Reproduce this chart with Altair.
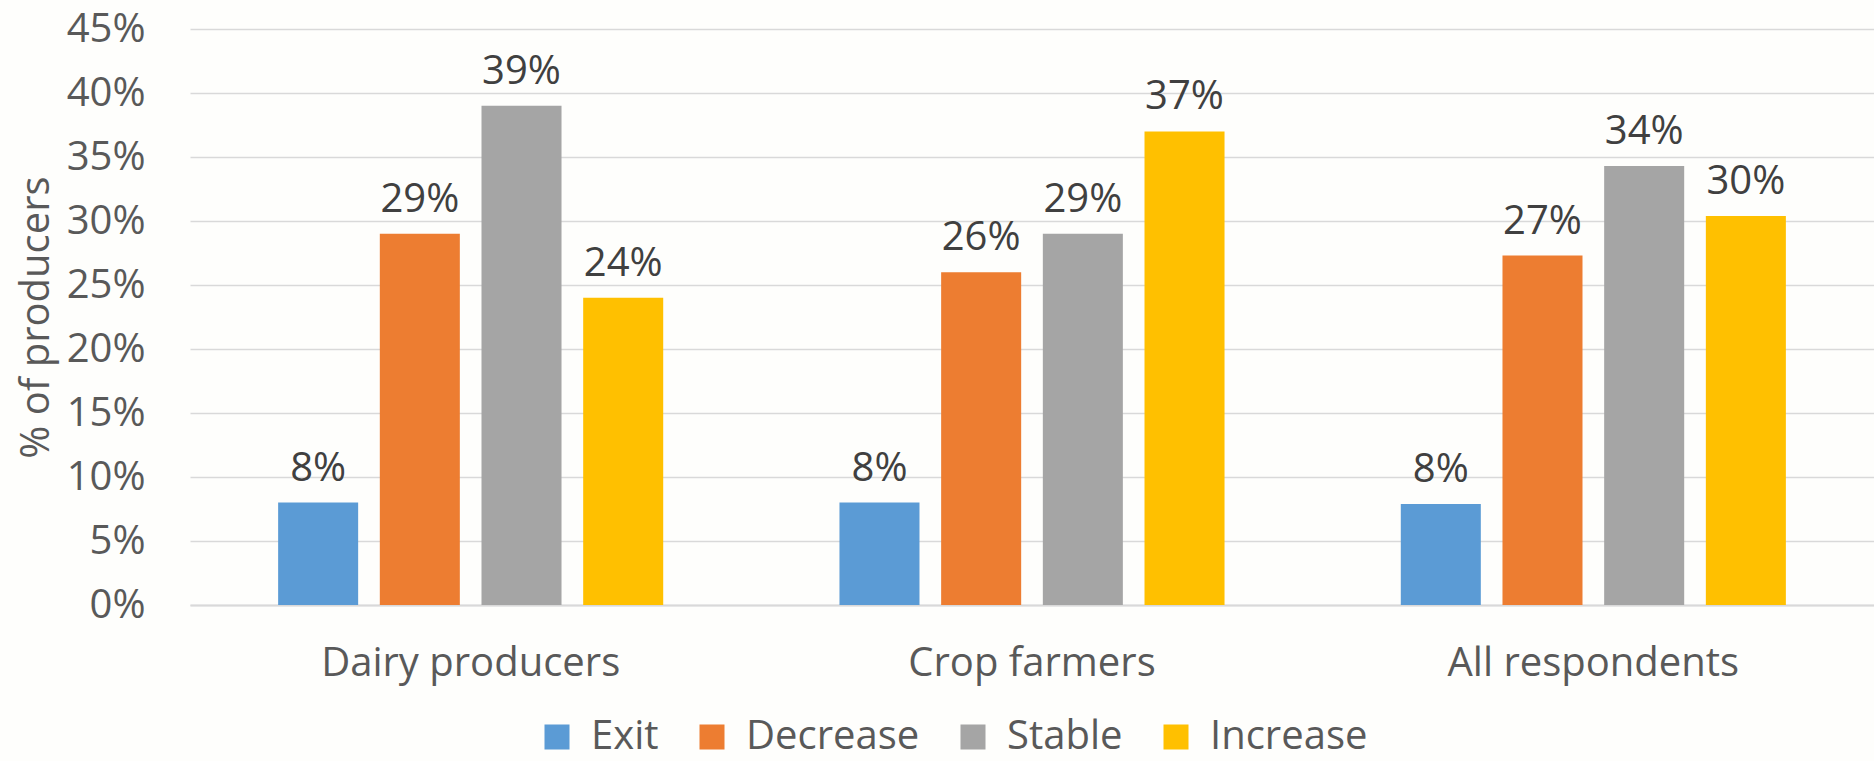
import altair as alt
import pandas as pd

groups = ["Dairy producers", "Crop farmers", "All respondents"]
categories = ["Exit", "Decrease", "Stable", "Increase"]
colors = ["#5B9BD5", "#ED7D31", "#A5A5A5", "#FFC000"]
dairy = [0.08, 0.29, 0.39, 0.24]
crop = [0.08, 0.26, 0.29, 0.37]
all_resp = [0.079, 0.273, 0.343, 0.304]
y_ticks = [0, 0.05, 0.10, 0.15, 0.20, 0.25, 0.30, 0.35, 0.40, 0.45]

rows = []
for g, vals in zip(groups, [dairy, crop, all_resp]):
    for c, v in zip(categories, vals):
        rows.append({"Group": g, "Category": c, "Value": v})
df = pd.DataFrame(rows)

FONT = "Open Sans"
FS = 40

x_enc = alt.X("Group:N", sort=groups,
              scale=alt.Scale(paddingInner=0.314, paddingOuter=0.157),
              axis=alt.Axis(title=None, labelAngle=0, ticks=False, domain=True,
                            domainColor="#d9d9d9", domainWidth=2, labelLimit=0,
                            labelFont=FONT, labelFontSize=FS, labelColor="#595959",
                            labelPadding=38, grid=False))
xo_enc = alt.XOffset("Category:N", sort=categories,
                     scale=alt.Scale(paddingInner=0.213, paddingOuter=0))
y_enc = alt.Y("Value:Q",
              scale=alt.Scale(domain=[0, 0.45], nice=False),
              axis=alt.Axis(title="% of producers", format=".0%", values=y_ticks,
                            ticks=False, domain=False, grid=True,
                            gridColor="#d9d9d9", gridWidth=1.5,
                            labelFont=FONT, labelFontSize=FS, labelColor="#595959",
                            labelPadding=45,
                            titleFont=FONT, titleFontSize=FS, titleColor="#595959",
                            titleFontWeight="normal", titlePadding=10))

bars = alt.Chart(df).mark_bar().encode(
    x=x_enc, xOffset=xo_enc, y=y_enc,
    color=alt.Color("Category:N", sort=categories,
                    scale=alt.Scale(domain=categories, range=colors),
                    legend=alt.Legend(title=None, orient="none", direction="horizontal",
                                      columns=4, legendX=347, legendY=688,
                                      symbolType="square", symbolSize=625,
                                      symbolStrokeWidth=0, labelFont=FONT,
                                      labelFontSize=FS, labelColor="#595959",
                                      labelLimit=0,
                                      labelOffset=14, columnPadding=33)),
)

labels = alt.Chart(df).mark_text(font=FONT, fontSize=FS, color="#404040",
                                 baseline="alphabetic", dy=-22).encode(
    x=alt.X("Group:N", sort=groups), xOffset=alt.XOffset("Category:N", sort=categories),
    y="Value:Q", text=alt.Text("Value:Q", format=".0%"),
)

chart = (bars + labels).properties(
    width=1684, height=576,
    autosize=alt.AutoSizeParams(type="none"),
    padding={"left": 190, "top": 29, "right": 0, "bottom": 156},
    background="#fefefc",
).configure_view(stroke=None)

chart.save("out.html", embed_options={"renderer": "svg", "actions": False})
